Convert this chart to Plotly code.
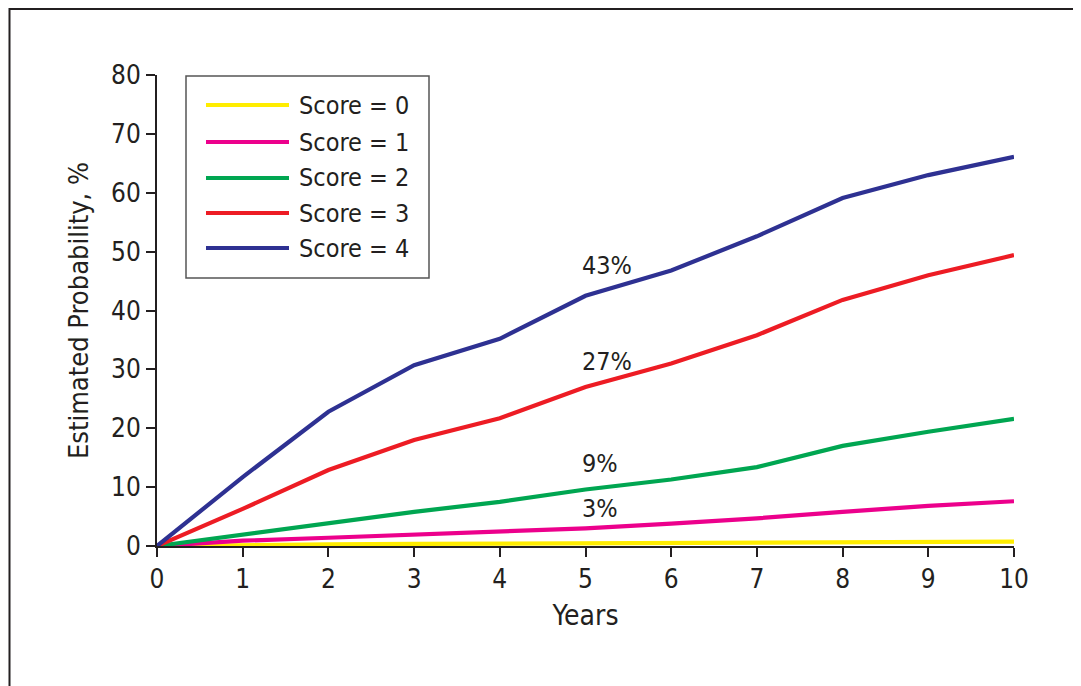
import plotly.graph_objects as go

years = [0, 1, 2, 3, 4, 5, 6, 7, 8, 9, 10]
score0 = [0, 0.2, 0.3, 0.35, 0.4, 0.45, 0.5, 0.55, 0.6, 0.7, 0.75]
score1 = [0, 0.9, 1.4, 1.9, 2.4, 3.0, 3.8, 4.7, 5.8, 6.8, 7.6]
score2 = [0, 1.9, 3.9, 5.8, 7.5, 9.6, 11.3, 13.4, 17.0, 19.4, 21.6]
score3 = [0, 6.3, 12.9, 18.0, 21.7, 27.0, 31.0, 35.8, 41.8, 46.0, 49.4]
score4 = [0, 11.7, 22.8, 30.7, 35.2, 42.5, 46.8, 52.6, 59.1, 63.0, 66.1]
names = ["Score = 0", "Score = 1", "Score = 2", "Score = 3", "Score = 4"]
colors = ["#FFED00", "#EC008C", "#00A651", "#ED1C24", "#2E3192"]
labels = ["43%", "27%", "9%", "3%"]
label_x = [5, 5, 5, 5]
label_y = [47.7, 31.4, 14.0, 6.4]

series = [score0, score1, score2, score3, score4]
FONT = "DejaVu Sans Condensed, Liberation Sans Narrow, Roboto, sans-serif"
TXT = "#231F20"

fig = go.Figure()
for s, n, c in zip(series, names, colors):
    fig.add_trace(go.Scatter(x=years, y=s, mode="lines", name=n,
                             line=dict(color=c, width=4.2), showlegend=False,
                             cliponaxis=False))

OFF = 8  # page offset of the figure
L, R, T, B = 149, 75, 67, 148
W, H = 1081, 686
pw, ph = W - L - R, H - T - B

def px(x):
    return (x - OFF - L) / pw

def py(y):
    return (H - B - (y - OFF)) / ph

shapes = []
annotations = []
# outer frame
shapes.append(dict(type="rect", xref="paper", yref="paper",
                   x0=px(9.5), x1=px(1075), y0=py(720), y1=py(9),
                   line=dict(color="#231F20", width=2), layer="below"))
# legend box
shapes.append(dict(type="rect", xref="paper", yref="paper",
                   x0=px(186), x1=px(429), y0=py(278), y1=py(76),
                   line=dict(color="#555555", width=1.5), fillcolor="white"))
rows = [105, 142, 178, 213, 248]
for n, c, r in zip(names, colors, rows):
    shapes.append(dict(type="line", xref="paper", yref="paper",
                       x0=px(206), x1=px(289), y0=py(r), y1=py(r),
                       line=dict(color=c, width=4.2)))
    annotations.append(dict(xref="paper", yref="paper", x=px(297), y=py(r),
                            text=n, showarrow=False, xanchor="left",
                            yanchor="middle",
                            font=dict(family=FONT, size=25, color=TXT)))
for t, lx, ly in zip(labels, label_x, label_y):
    annotations.append(dict(x=lx, y=ly, xref="x", yref="y", text=t,
                            showarrow=False, xanchor="left", xshift=-6,
                            yanchor="middle",
                            font=dict(family=FONT, size=25, color=TXT)))

fig.update_layout(
    width=W, height=H,
    margin=dict(l=L, r=R, t=T, b=B),
    paper_bgcolor="white", plot_bgcolor="white",
    shapes=shapes, annotations=annotations,
    font=dict(family=FONT, color=TXT),
    xaxis=dict(range=[0, 10], tickvals=list(range(0, 11)), showgrid=False,
               zeroline=False, showline=True, linecolor=TXT, linewidth=2,
               ticks="outside", ticklen=9, tickwidth=2, tickcolor=TXT,
               tickfont=dict(family=FONT, size=26, color=TXT),
               title=dict(text="Years", font=dict(family=FONT, size=28, color=TXT),
                          standoff=12)),
    yaxis=dict(range=[0, 80], tickvals=list(range(0, 81, 10)), showgrid=False,
               zeroline=False, showline=True, linecolor=TXT, linewidth=2,
               ticks="outside", ticklen=9, tickwidth=2, tickcolor=TXT,
               tickfont=dict(family=FONT, size=26, color=TXT),
               title=dict(text="Estimated Probability, %",
                          font=dict(family=FONT, size=27, color=TXT), standoff=15)),
)

fig.write_html("out.html")
